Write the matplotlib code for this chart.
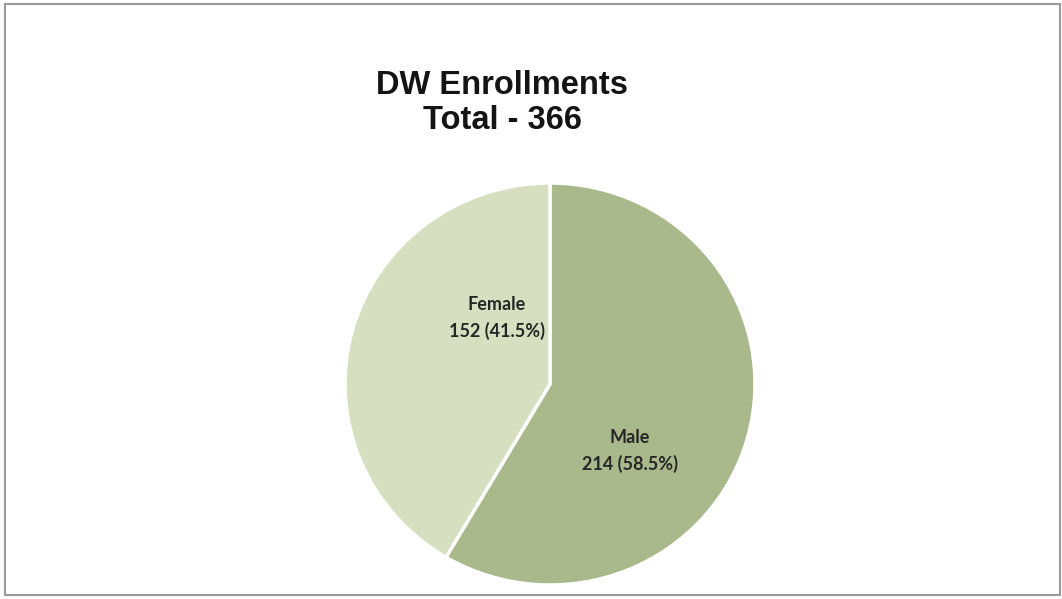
import matplotlib.pyplot as plt
from matplotlib.patches import Rectangle

# enrollment counts by gender
labels = ['Male', 'Female']
counts = [214, 152]
colors = ['#a9b98b', '#d6e0c1']
total = sum(counts)

fig = plt.figure(figsize=(10.62, 5.99), dpi=100)
fig.patch.set_facecolor('white')

# light grey frame round the chart area
fig.patches.append(Rectangle((0.005, 0.006), 0.993, 0.987, transform=fig.transFigure,
                             fill=False, edgecolor='#9a9a9a', linewidth=1.5))

W, H = 1062, 599
cx, cy, rx, ry = 550, 384, 205, 201
ax = fig.add_axes([(cx - rx) / W, 1 - (cy + ry) / H, 2 * rx / W, 2 * ry / H])

wedges, _ = ax.pie(counts, colors=colors, startangle=90, counterclock=False,
                   radius=1.0, wedgeprops=dict(edgecolor='white', linewidth=2.5))
ax.set_xlim(-1, 1)
ax.set_ylim(-1, 1)
ax.set_aspect('auto')
ax.axis('off')

# data labels inside each slice
label_pos = [(0.39, -0.335), (-0.26, 0.33)]
for name, n, (x, y) in zip(labels, counts, label_pos):
    pct = 100.0 * n / total
    ax.text(x, y, '%s\n%d (%.1f%%)' % (name, n, pct), ha='center', va='center',
            fontsize=13, fontweight='bold', family='Lato', color='#262626',
            linespacing=1.6)

fig.text(502 / W, 1 - 103 / H, 'DW Enrollments\nTotal - 366', ha='center', va='center',
         fontsize=23.5, fontweight='bold', family='Liberation Sans', color='#141414',
         linespacing=1.2)

fig.savefig('out.png', dpi=100)
